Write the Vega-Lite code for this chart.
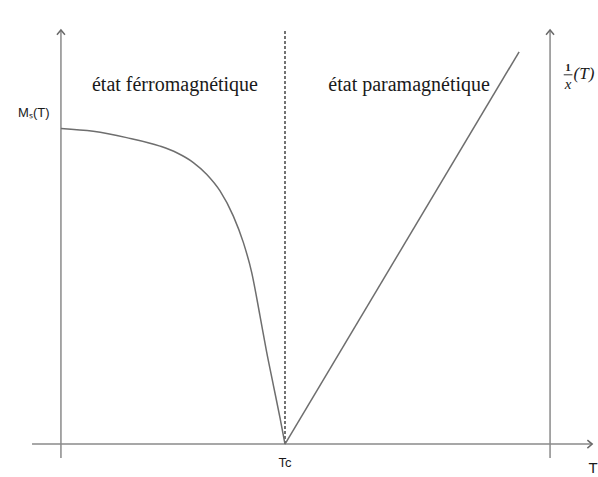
{
  "$schema": "https://vega.github.io/schema/vega-lite/v6.json",
  "width": 598,
  "height": 477,
  "padding": 0,
  "autosize": {"type": "fit", "contains": "padding"},
  "background": "white",
  "config": {"view": {"stroke": null}},
  "datasets": {
    "axes": [
      {"name": "left", "x1": 0, "x2": 0, "y1": -0.044, "y2": 1.312},
      {"name": "right", "x1": 2.183, "x2": 2.183, "y1": -0.044, "y2": 1.312},
      {"name": "T", "x1": -0.129, "x2": 2.371, "y1": 0, "y2": 0}
    ],
    "upArrows": [
      {"x": 0, "y": 1.312},
      {"x": 2.183, "y": 1.312}
    ],
    "rightArrow": [
      {"x": 2.371, "y": 0}
    ],
    "tc": [
      {"x": 1, "y1": 0, "y2": 1.312}
    ],
    "ms": [
      {"T": 0, "v": 1.0},
      {"T": 0.144, "v": 0.991},
      {"T": 0.293, "v": 0.971},
      {"T": 0.442, "v": 0.944},
      {"T": 0.517, "v": 0.923},
      {"T": 0.591, "v": 0.892},
      {"T": 0.65, "v": 0.855},
      {"T": 0.71, "v": 0.802},
      {"T": 0.769, "v": 0.723},
      {"T": 0.814, "v": 0.639},
      {"T": 0.851, "v": 0.545},
      {"T": 0.888, "v": 0.408},
      {"T": 0.918, "v": 0.292},
      {"T": 0.948, "v": 0.187},
      {"T": 0.978, "v": 0.082},
      {"T": 1.0, "v": 0.0}
    ],
    "chi": [
      {"T": 1.0, "v": 0.0},
      {"T": 2.045, "v": 1.243}
    ],
    "frac": [
      {"x1": 2.244, "x2": 2.283, "y": 1.170}
    ],
    "serifLabels": [
      {"x": 0.509, "y": 1.139, "label": "état férromagnétique"},
      {"x": 1.554, "y": 1.139, "label": "état paramagnétique"}
    ],
    "sansLabels": [
      {"x": -0.121, "y": 1.050, "label": "Mₛ(T)", "size": 13},
      {"x": 1.0, "y": -0.060, "label": "Tc", "size": 13},
      {"x": 2.375, "y": -0.076, "label": "T", "size": 15}
    ],
    "one": [
      {"x": 2.263, "y": 1.192, "label": "1"}
    ],
    "xlab": [
      {"x": 2.263, "y": 1.140, "label": "x"}
    ],
    "tlab": [
      {"x": 2.288, "y": 1.172, "label": "(T)"}
    ]
  },
  "encoding": {},
  "layer": [
    {
      "data": {"name": "axes"},
      "mark": {"type": "rule", "stroke": "#8a8a8a", "strokeWidth": 1.5},
      "encoding": {
        "x": {"field": "x1", "type": "quantitative", "scale": {"domain": [-0.272, 2.397], "nice": false, "zero": false}, "axis": null},
        "x2": {"field": "x2"},
        "y": {"field": "y1", "type": "quantitative", "scale": {"domain": [-0.098, 1.407], "nice": false, "zero": false}, "axis": null},
        "y2": {"field": "y2"}
      }
    },
    {
      "data": {"name": "upArrows"},
      "mark": {"type": "point", "shape": "M-1,1.2L0,0L1,1.2", "filled": false, "stroke": "#6a6a6a", "strokeWidth": 1.5, "size": 64, "opacity": 1},
      "encoding": {
        "x": {"field": "x", "type": "quantitative"},
        "y": {"field": "y", "type": "quantitative"}
      }
    },
    {
      "data": {"name": "rightArrow"},
      "mark": {"type": "point", "shape": "M-1.2,-1L0,0L-1.2,1", "filled": false, "stroke": "#6a6a6a", "strokeWidth": 1.5, "size": 64, "opacity": 1},
      "encoding": {
        "x": {"field": "x", "type": "quantitative"},
        "y": {"field": "y", "type": "quantitative"}
      }
    },
    {
      "data": {"name": "tc"},
      "mark": {"type": "rule", "stroke": "#444444", "strokeWidth": 1.5, "strokeDash": [3, 2]},
      "encoding": {
        "x": {"field": "x", "type": "quantitative"},
        "y": {"field": "y1", "type": "quantitative"},
        "y2": {"field": "y2"}
      }
    },
    {
      "data": {"name": "ms"},
      "mark": {"type": "line", "interpolate": "monotone", "stroke": "#6e6e6e", "strokeWidth": 1.5},
      "encoding": {
        "x": {"field": "T", "type": "quantitative"},
        "y": {"field": "v", "type": "quantitative"}
      }
    },
    {
      "data": {"name": "chi"},
      "mark": {"type": "line", "stroke": "#6e6e6e", "strokeWidth": 1.5},
      "encoding": {
        "x": {"field": "T", "type": "quantitative"},
        "y": {"field": "v", "type": "quantitative"}
      }
    },
    {
      "data": {"name": "frac"},
      "mark": {"type": "rule", "stroke": "#333333", "strokeWidth": 1},
      "encoding": {
        "x": {"field": "x1", "type": "quantitative"},
        "x2": {"field": "x2"},
        "y": {"field": "y", "type": "quantitative"}
      }
    },
    {
      "data": {"name": "serifLabels"},
      "mark": {"type": "text", "font": "Liberation Serif", "fontSize": 20, "color": "#1a1a1a", "align": "center", "baseline": "middle"},
      "encoding": {
        "x": {"field": "x", "type": "quantitative"},
        "y": {"field": "y", "type": "quantitative"},
        "text": {"field": "label"}
      }
    },
    {
      "data": {"name": "sansLabels"},
      "mark": {"type": "text", "font": "Liberation Sans", "color": "#1a1a1a", "align": "center", "baseline": "middle"},
      "encoding": {
        "x": {"field": "x", "type": "quantitative"},
        "y": {"field": "y", "type": "quantitative"},
        "text": {"field": "label"},
        "size": {"field": "size", "type": "quantitative", "scale": null}
      }
    },
    {
      "data": {"name": "one"},
      "mark": {"type": "text", "font": "Liberation Serif", "fontSize": 11, "fontWeight": "bold", "color": "#1a1a1a", "align": "center", "baseline": "middle"},
      "encoding": {
        "x": {"field": "x", "type": "quantitative"},
        "y": {"field": "y", "type": "quantitative"},
        "text": {"field": "label"}
      }
    },
    {
      "data": {"name": "xlab"},
      "mark": {"type": "text", "font": "Liberation Serif", "fontSize": 15, "fontStyle": "italic", "color": "#1a1a1a", "align": "center", "baseline": "middle"},
      "encoding": {
        "x": {"field": "x", "type": "quantitative"},
        "y": {"field": "y", "type": "quantitative"},
        "text": {"field": "label"}
      }
    },
    {
      "data": {"name": "tlab"},
      "mark": {"type": "text", "font": "Liberation Serif", "fontSize": 17, "fontStyle": "italic", "color": "#1a1a1a", "align": "left", "baseline": "middle"},
      "encoding": {
        "x": {"field": "x", "type": "quantitative"},
        "y": {"field": "y", "type": "quantitative"},
        "text": {"field": "label"}
      }
    }
  ]
}
